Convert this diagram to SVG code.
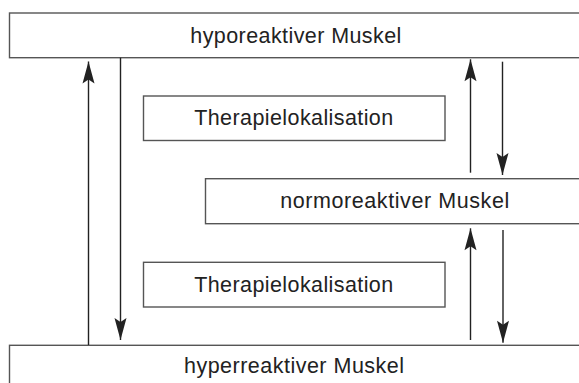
<svg xmlns="http://www.w3.org/2000/svg" width="579" height="383" viewBox="0 0 579 383">
<style>
.box{fill:#fff;stroke:#555;stroke-width:1.4}
.lbl{font-family:"Liberation Sans",Arial,sans-serif;font-size:21.5px;fill:#222;text-anchor:middle}
.con{stroke:#222;stroke-width:1.4;fill:none;marker-end:url(#ah)}
</style>
<defs>
<marker id="ah" markerUnits="userSpaceOnUse" markerWidth="24" markerHeight="14" viewBox="-23 -7 24 14" refX="0" refY="0" orient="auto">
<path d="M0,0 L-22,-6 L-18,0 L-22,6 Z" fill="#222"/>
</marker>
</defs>
<rect width="579" height="383" fill="#fff"/>
<g id="hypo">
<rect class="box" x="9.5" y="13" width="600" height="44.7"/>
<text class="lbl" x="295.8" y="42.5" textLength="211" lengthAdjust="spacing">hyporeaktiver Muskel</text>
</g>
<g id="thera1">
<rect class="box" x="143.5" y="96" width="301.5" height="44.5"/>
<text class="lbl" x="293.7" y="125" textLength="199" lengthAdjust="spacing">Therapielokalisation</text>
</g>
<g id="normo">
<rect class="box" x="205.5" y="178.7" width="400" height="45"/>
<text class="lbl" x="394.7" y="208" textLength="229" lengthAdjust="spacing">normoreaktiver Muskel</text>
</g>
<g id="thera2">
<rect class="box" x="143.5" y="262.3" width="301.5" height="44.7"/>
<text class="lbl" x="293.7" y="291.5" textLength="199" lengthAdjust="spacing">Therapielokalisation</text>
</g>
<g id="hyper">
<rect class="box" x="9.5" y="345.3" width="600" height="60"/>
<text class="lbl" x="294" y="372.5" textLength="220" lengthAdjust="spacing">hyperreaktiver Muskel</text>
</g>
<g id="connectors">
<line class="con" x1="88.5" y1="345" x2="88.5" y2="61.5"/>
<line class="con" x1="120.5" y1="57.7" x2="120.5" y2="340"/>
<line class="con" x1="470.5" y1="172.7" x2="470.5" y2="59.3"/>
<line class="con" x1="502.5" y1="61.7" x2="502.5" y2="175"/>
<line class="con" x1="470.5" y1="340" x2="470.5" y2="228.3"/>
<line class="con" x1="503" y1="230" x2="503" y2="342.7"/>
</g>
</svg>
